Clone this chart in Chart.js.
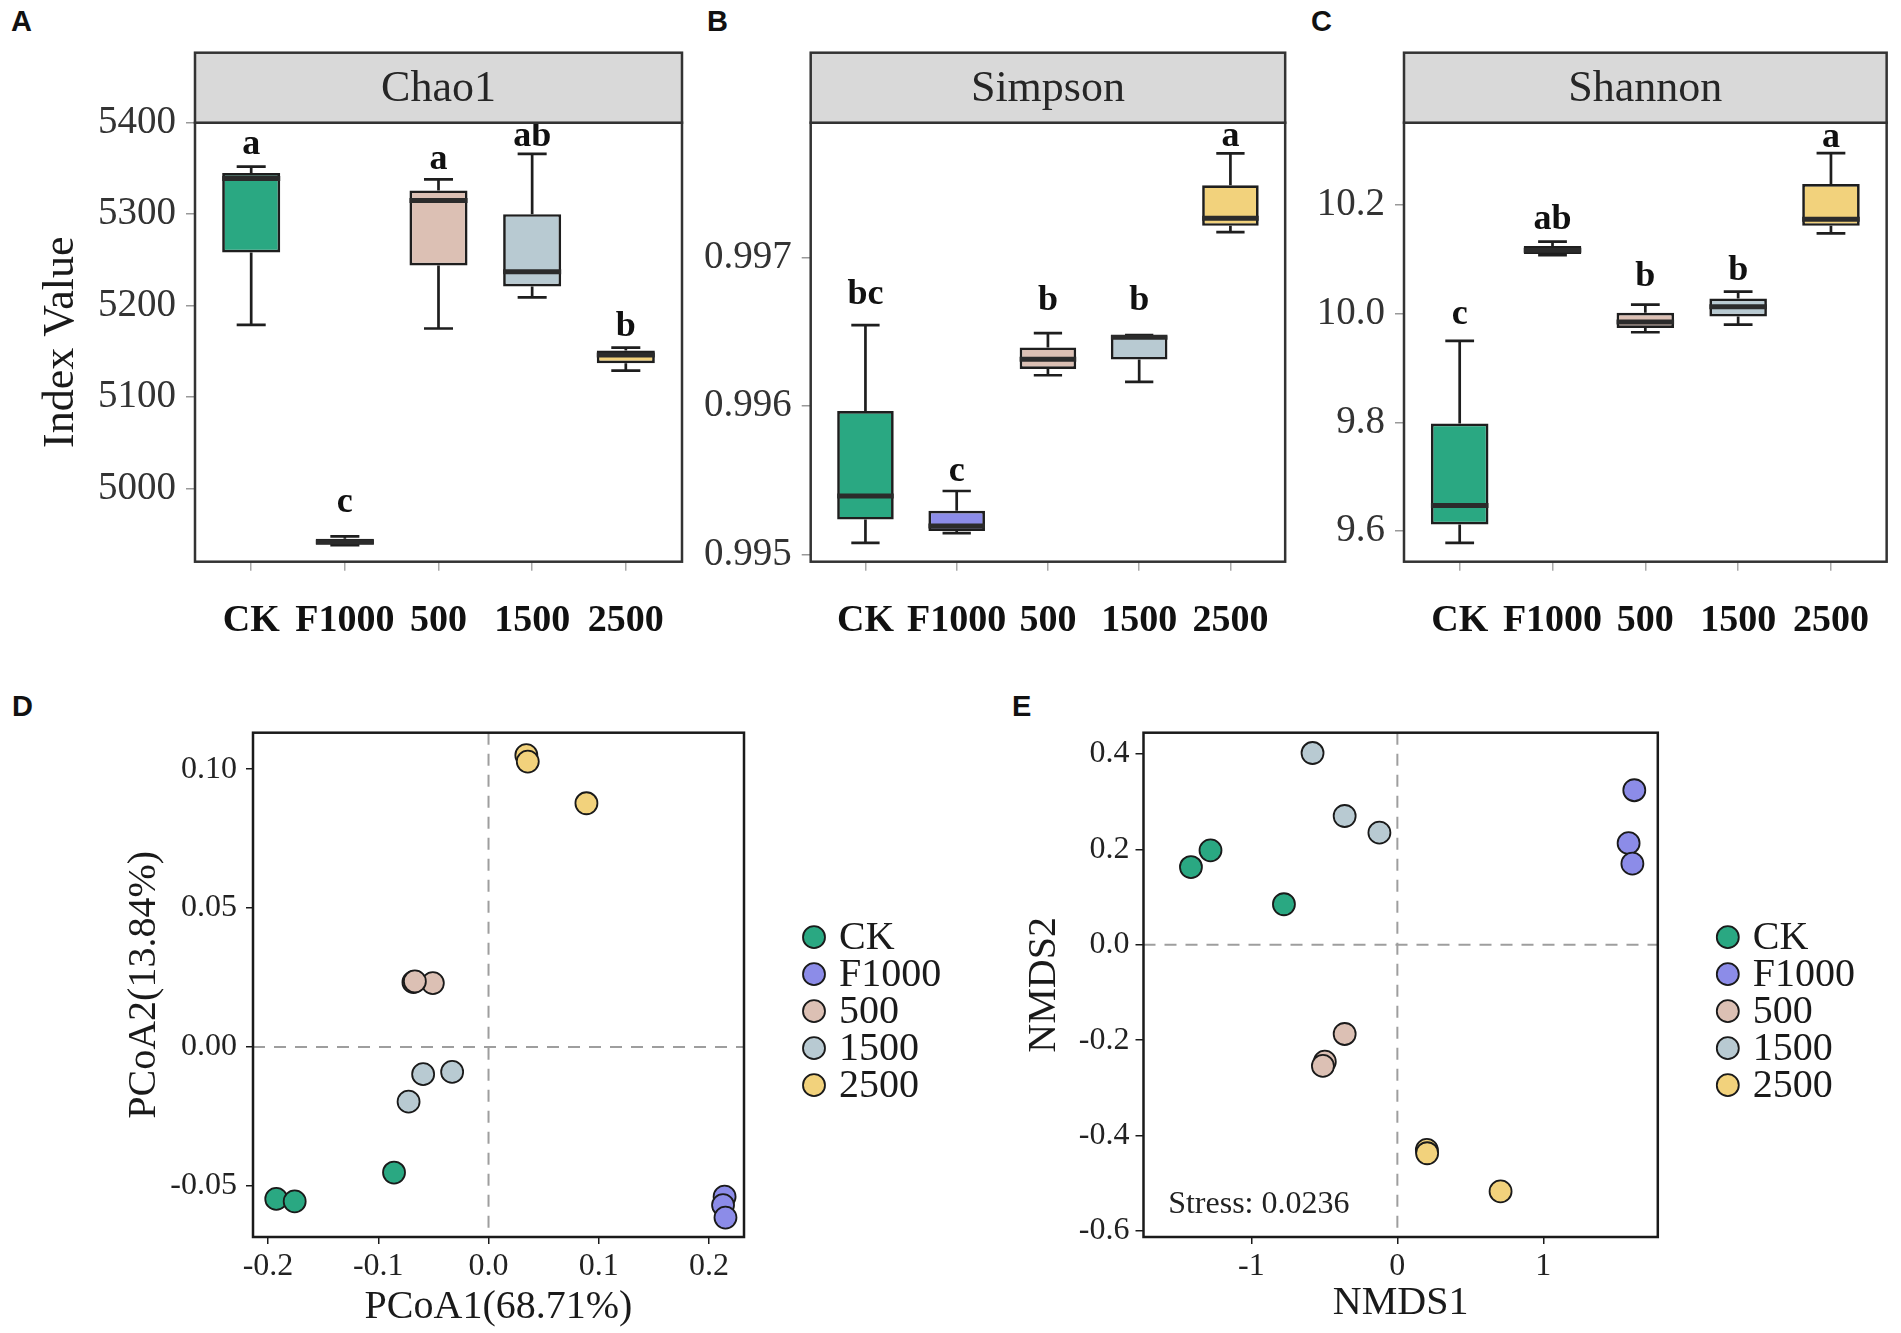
<!DOCTYPE html>
<html lang="en">
<head>
<meta charset="UTF-8">
<title>Alpha and beta diversity</title>
<script src="https://cdn.jsdelivr.net/npm/chart.js"></script>
<style>
  body { margin: 0; background: #fff; }
  #wrap { position: relative; width: 1901px; height: 1333px; background: #fff; }
  canvas { position: absolute; }
  .tag { position: absolute; font: bold 29px "Liberation Sans", Arial, sans-serif; line-height: 29px; color: #111; }
</style>
</head>
<body>
<div id="wrap">
  <div class="tag" style="left:11px; top:7px;">A</div>
  <div class="tag" style="left:707px; top:7px;">B</div>
  <div class="tag" style="left:1311px; top:7px;">C</div>
  <div class="tag" style="left:12px; top:692px;">D</div>
  <div class="tag" style="left:1012px; top:692px;">E</div>
  <canvas id="chao" width="700" height="620" style="left:0px; top:40px;"></canvas>
  <canvas id="simpson" width="600" height="620" style="left:700px; top:40px;"></canvas>
  <canvas id="shannon" width="601" height="620" style="left:1300px; top:40px;"></canvas>
  <canvas id="pcoa" width="960" height="673" style="left:0px; top:660px;"></canvas>
  <canvas id="nmds" width="941" height="673" style="left:960px; top:660px;"></canvas>
</div>

<script>
// groups and colours
const groups = ['CK', 'F1000', '500', '1500', '2500'];
const groupColors = ['#2aa882', '#8c8ce8', '#dcc0b4', '#b8cad2', '#f2d27c'];

// box stats per group: [lower whisker, q1, median, q3, upper whisker]
const chao1Stats = [
  [5179, 5258, 5339, 5345, 5352],
  [4938, 4938.4, 4941.6, 4945, 4947.6],
  [5175, 5244, 5315, 5326, 5338],
  [5209, 5221, 5237, 5300, 5366],
  [5129, 5137, 5146, 5151, 5154]
];
const chao1Letters = ['a', 'c', 'a', 'ab', 'b'];
const chao1LetterY = [5366, 4974, 5349, 5374, 5167];
const chao1Ticks = [5000, 5100, 5200, 5300, 5400];

const simpsonStats = [
  [0.995082, 0.995238, 0.995396, 0.995967, 0.996545],
  [0.995147, 0.995161, 0.995195, 0.995297, 0.995430],
  [0.996208, 0.996250, 0.996315, 0.996395, 0.996491],
  [0.996163, 0.996313, 0.996463, 0.996471, 0.996477],
  [0.997170, 0.997212, 0.997263, 0.997484, 0.997699]
];
const simpsonLetters = ['bc', 'c', 'b', 'b', 'a'];
const simpsonLetterY = [0.996690, 0.995500, 0.996645, 0.996645, 0.997750];
const simpsonTicks = [0.995, 0.996, 0.997];

const shannonStats = [
  [9.578, 9.612, 9.647, 9.798, 9.950],
  [10.108, 10.110, 10.117, 10.125, 10.133],
  [9.966, 9.974, 9.985, 10.002, 10.017],
  [9.980, 9.995, 10.013, 10.028, 10.041],
  [10.148, 10.162, 10.174, 10.239, 10.296]
];
const shannonLetters = ['c', 'ab', 'b', 'b', 'a'];
const shannonLetterY = [9.982, 10.156, 10.051, 10.063, 10.307];
const shannonTicks = [9.6, 9.8, 10.0, 10.2];

// PCoA points [x, y] per group
const pcoaCK = [[-0.1925, -0.0547], [-0.1758, -0.0556], [-0.0857, -0.0452]];
const pcoaF1000 = [[0.2141, -0.0539], [0.2127, -0.0569], [0.2149, -0.0614]];
const pcoa500 = [[-0.0681, 0.0233], [-0.0505, 0.0230], [-0.0668, 0.0236]];
const pcoa1500 = [[-0.0593, -0.0098], [-0.0330, -0.0090], [-0.0725, -0.0197]];
const pcoa2500 = [[0.0343, 0.1050], [0.0356, 0.1027], [0.0888, 0.0877]];
const pcoaXTicks = [-0.2, -0.1, 0.0, 0.1, 0.2];
const pcoaYTicks = [-0.05, 0.00, 0.05, 0.10];

// NMDS points [x, y] per group
const nmdsCK = [[-1.414, 0.163], [-1.280, 0.198], [-0.777, 0.085]];
const nmdsF1000 = [[1.623, 0.324], [1.584, 0.213], [1.610, 0.170]];
const nmds500 = [[-0.361, -0.187], [-0.497, -0.245], [-0.510, -0.254]];
const nmds1500 = [[-0.581, 0.402], [-0.361, 0.270], [-0.123, 0.235]];
const nmds2500 = [[0.202, -0.430], [0.204, -0.437], [0.707, -0.517]];
const nmdsXTicks = [-1, 0, 1];
const nmdsYTicks = [-0.6, -0.4, -0.2, 0.0, 0.2, 0.4];
const nmdsStress = 'Stress: 0.0236';

const serif = '"Liberation Serif", "Times New Roman", serif';

function boxPlugin(stats, letters, letterY, stripTitle) {
  return {
    id: 'boxExtras',
    afterDatasetsDraw(chart) {
      const {ctx, chartArea: a, scales: {x, y}} = chart;
      const capHalf = x.getPixelForValue(1.155) - x.getPixelForValue(1);
      const boxHalf = x.getPixelForValue(1.31) - x.getPixelForValue(1);
      ctx.save();
      stats.forEach((s, i) => {
        const cx = x.getPixelForValue(i + 1);
        const [lo, q1, med, q3, hi] = s.map(v => y.getPixelForValue(v));
        ctx.strokeStyle = '#1e1e1e';
        ctx.lineWidth = 2.7;
        ctx.beginPath();
        ctx.moveTo(cx, q3); ctx.lineTo(cx, hi);
        ctx.moveTo(cx, q1); ctx.lineTo(cx, lo);
        ctx.moveTo(cx - capHalf, hi); ctx.lineTo(cx + capHalf, hi);
        ctx.moveTo(cx - capHalf, lo); ctx.lineTo(cx + capHalf, lo);
        ctx.stroke();
        ctx.lineWidth = 5;
        ctx.strokeStyle = '#2b2b2b';
        ctx.beginPath();
        ctx.moveTo(cx - boxHalf, med); ctx.lineTo(cx + boxHalf, med);
        ctx.stroke();
        ctx.fillStyle = '#111';
        ctx.font = 'bold 36px ' + serif;
        ctx.textAlign = 'center';
        ctx.textBaseline = 'alphabetic';
        ctx.fillText(letters[i], cx, y.getPixelForValue(letterY[i]));
      });
      // panel frame and strip
      ctx.strokeStyle = '#333';
      ctx.lineWidth = 2.5;
      ctx.strokeRect(a.left, a.top, a.right - a.left, a.bottom - a.top);
      const sh = 70;
      ctx.fillStyle = '#d9d9d9';
      ctx.fillRect(a.left, a.top - sh, a.right - a.left, sh);
      ctx.strokeRect(a.left, a.top - sh, a.right - a.left, sh);
      ctx.fillStyle = '#262626';
      ctx.font = '44px ' + serif;
      ctx.textAlign = 'center';
      ctx.textBaseline = 'middle';
      ctx.fillText(stripTitle, (a.left + a.right) / 2, a.top - sh / 2 + 2);
      ctx.restore();
    }
  };
}

function boxChart(id, stats, letters, letterY, ticks, digits, yMin, yMax, stripTitle, yWidth, padRight, yTitle) {
  new Chart(document.getElementById(id), {
    type: 'bar',
    data: {
      datasets: [{
        data: stats.map((s, i) => ({x: i + 1, y: [s[1], s[3]]})),
        backgroundColor: groupColors,
        borderColor: '#1e1e1e',
        borderWidth: 2.7,
        borderSkipped: false,
        barPercentage: 0.62,
        categoryPercentage: 1
      }]
    },
    options: {
      responsive: false,
      animation: false,
      layout: {padding: {top: 82.7, right: padRight, left: 0, bottom: 0}},
      plugins: {legend: {display: false}, tooltip: {enabled: false}},
      scales: {
        x: {
          type: 'linear', min: 0.4, max: 5.6, offset: false,
          grid: {drawOnChartArea: false, offset: false, tickLength: 9, color: '#aaa', lineWidth: 1.5},
          border: {display: false},
          afterBuildTicks: s => { s.ticks = groups.map((g, i) => ({value: i + 1})); },
          afterFit: s => { s.height = 98.3; },
          ticks: {
            autoSkip: false, maxRotation: 0, minRotation: 0, padding: 31,
            color: '#111', font: {family: serif, size: 38, weight: 'bold', lineHeight: 1},
            callback: v => groups[v - 1]
          }
        },
        y: {
          type: 'linear', min: yMin, max: yMax,
          grid: {drawOnChartArea: false, tickLength: 9, color: '#999', lineWidth: 1.5},
          border: {display: false},
          afterBuildTicks: s => { s.ticks = ticks.map(v => ({value: v})); },
          afterFit: s => { s.width = yWidth; },
          title: yTitle ? {display: true, text: yTitle, color: '#1a1a1a', padding: {top: 39, bottom: 0},
                  font: {family: serif, size: 44, lineHeight: 1}} : {display: false},
          ticks: {
            autoSkip: false, padding: 10, color: '#333',
            font: {family: serif, size: 39, lineHeight: 1},
            callback: v => v.toFixed(digits)
          }
        }
      }
    },
    plugins: [boxPlugin(stats, letters, letterY, stripTitle)]
  });
}

boxChart('chao', chao1Stats, chao1Letters, chao1LetterY, chao1Ticks, 0, 4920, 5400, 'Chao1', 195, 18, 'Index Value');
boxChart('simpson', simpsonStats, simpsonLetters, simpsonLetterY, simpsonTicks, 3, 0.994955, 0.997905, 'Simpson', 110.7, 5, null);
boxChart('shannon', shannonStats, shannonLetters, shannonLetterY, shannonTicks, 1, 9.5434, 10.352, 'Shannon', 104, 9, null);

function ordPlugin(stressText, stressPos) {
  return {
    id: 'ordExtras',
    beforeDatasetsDraw(chart) {
      const {ctx, chartArea: a, scales: {x, y}} = chart;
      ctx.save();
      ctx.strokeStyle = '#9e9e9e';
      ctx.lineWidth = 2;
      ctx.setLineDash([12, 9]);
      const x0 = x.getPixelForValue(0), y0 = y.getPixelForValue(0);
      ctx.beginPath();
      ctx.moveTo(x0, a.top); ctx.lineTo(x0, a.bottom);
      ctx.moveTo(a.left, y0); ctx.lineTo(a.right, y0);
      ctx.stroke();
      ctx.restore();
    },
    afterDatasetsDraw(chart) {
      const {ctx, chartArea: a, scales: {x, y}} = chart;
      ctx.save();
      ctx.strokeStyle = '#1a1a1a';
      ctx.lineWidth = 2.5;
      ctx.strokeRect(a.left, a.top, a.right - a.left, a.bottom - a.top);
      // legend
      const lx = a.right + 70;
      ctx.font = '40px ' + serif;
      ctx.textAlign = 'left';
      ctx.textBaseline = 'middle';
      chart.data.datasets.forEach((ds, i) => {
        const ly = a.top + 204.5 + i * 37;
        ctx.beginPath();
        ctx.arc(lx, ly, 11, 0, Math.PI * 2);
        ctx.fillStyle = ds.backgroundColor;
        ctx.fill();
        ctx.lineWidth = 1.8;
        ctx.strokeStyle = '#1a1a1a';
        ctx.stroke();
        ctx.fillStyle = '#1a1a1a';
        ctx.fillText(ds.label, lx + 25, ly + 1);
      });
      if (stressText) {
        ctx.font = '32px ' + serif;
        ctx.fillStyle = '#222';
        ctx.fillText(stressText, x.getPixelForValue(stressPos[0]), y.getPixelForValue(stressPos[1]));
      }
      ctx.restore();
    }
  };
}

function ordChart(id, series, xr, yr, xTicks, yTicks, xDigits, yDigits, xTitle, yTitle, dims, stress) {
  new Chart(document.getElementById(id), {
    type: 'scatter',
    data: {
      datasets: series.map((pts, i) => ({
        label: groups[i],
        data: pts.map(p => ({x: p[0], y: p[1]})),
        backgroundColor: groupColors[i],
        borderColor: '#1a1a1a',
        borderWidth: 1.8,
        pointRadius: 11
      }))
    },
    options: {
      responsive: false,
      animation: false,
      layout: {padding: {top: 72.7, right: dims.padRight, left: 0, bottom: 0}},
      plugins: {legend: {display: false}, tooltip: {enabled: false}},
      scales: {
        x: {
          type: 'linear', min: xr[0], max: xr[1],
          grid: {drawOnChartArea: false, tickLength: 7, color: '#1a1a1a', lineWidth: 1.5},
          border: {display: false},
          afterBuildTicks: s => { s.ticks = xTicks.map(v => ({value: v})); },
          afterFit: s => { s.height = 96; },
          title: {display: true, text: xTitle, color: '#1a1a1a', padding: {top: 0, bottom: dims.xTitlePad},
                  font: {family: serif, size: 40, lineHeight: 1}},
          ticks: {
            autoSkip: false, maxRotation: 0, padding: 7, color: '#222',
            font: {family: serif, size: 32, lineHeight: 1},
            callback: v => v.toFixed(xDigits)
          }
        },
        y: {
          type: 'linear', min: yr[0], max: yr[1],
          grid: {drawOnChartArea: false, tickLength: dims.yTick, color: '#1a1a1a', lineWidth: 1.5},
          border: {display: false},
          afterBuildTicks: s => { s.ticks = yTicks.map(v => ({value: v})); },
          afterFit: s => { s.width = dims.yWidth; },
          title: {display: true, text: yTitle, color: '#1a1a1a', padding: {top: dims.yTitlePad, bottom: 0},
                  font: {family: serif, size: 40, lineHeight: 1}},
          ticks: {
            autoSkip: false, padding: dims.yPad, color: '#222',
            font: {family: serif, size: 32, lineHeight: 1},
            callback: v => v.toFixed(yDigits)
          }
        }
      }
    },
    plugins: [ordPlugin(stress ? stress.text : null, stress ? stress.pos : null)]
  });
}

ordChart('pcoa', [pcoaCK, pcoaF1000, pcoa500, pcoa1500, pcoa2500],
  [-0.2136, 0.2317], [-0.0684, 0.1131], pcoaXTicks, pcoaYTicks, 1, 2,
  'PCoA1(68.71%)', 'PCoA2(13.84%)',
  {padRight: 216, yWidth: 253, yTick: 7, yPad: 9, yTitlePad: 124, xTitlePad: 6}, null);

ordChart('nmds', [nmdsCK, nmdsF1000, nmds500, nmds1500, nmds2500],
  [-1.739, 1.784], [-0.6126, 0.4446], nmdsXTicks, nmdsYTicks, 0, 1,
  'NMDS1', 'NMDS2',
  {padRight: 243.2, yWidth: 183.5, yTick: 8, yPad: 6, yTitlePad: 64, xTitlePad: 10},
  {text: nmdsStress, pos: [-1.57, -0.545]});
</script>
</body>
</html>
